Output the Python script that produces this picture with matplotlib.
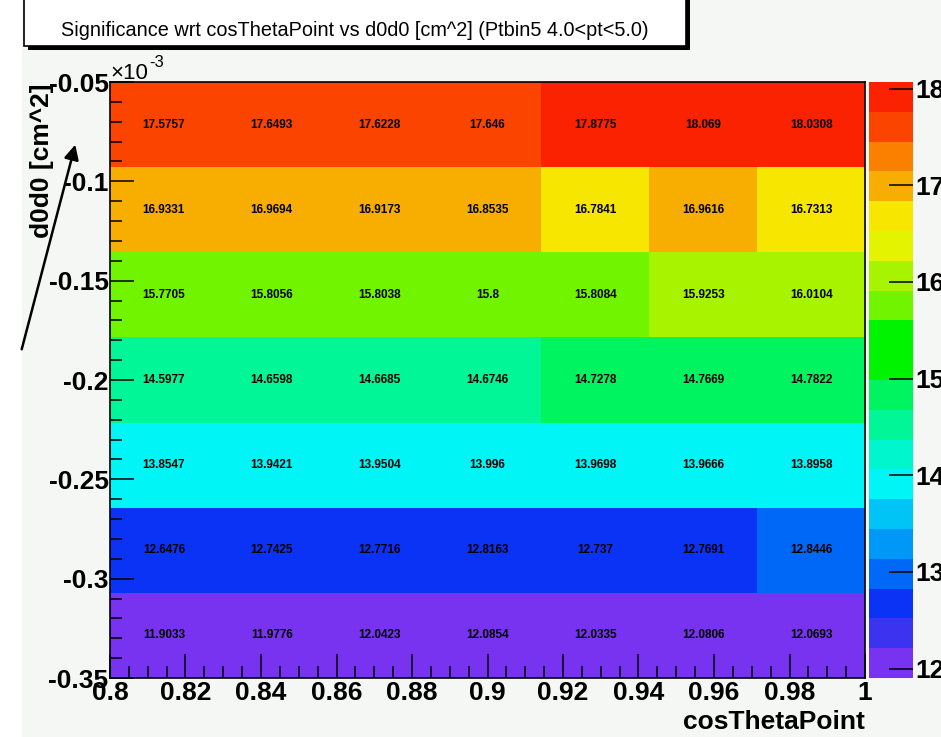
import matplotlib
matplotlib.use('Agg')
import matplotlib.pyplot as plt
from matplotlib.colors import ListedColormap, BoundaryNorm
from matplotlib.patches import Rectangle, FancyArrowPatch
from matplotlib.ticker import MultipleLocator
import numpy as np

plt.rcParams['axes.unicode_minus'] = False
FONT = ['Liberation Sans', 'DejaVu Sans']

# cosThetaPoint bins (x) and d0d0 bins in units of 1e-3 cm^2 (y)
x_low, x_high, n_x = 0.8, 1.0, 7
y_low, y_high, n_y = -0.35, -0.05, 7

# significance per cell, rows listed from the top bin (d0d0 = -0.05) down
row1 = [17.5757, 17.6493, 17.6228, 17.646, 17.8775, 18.069, 18.0308]
row2 = [16.9331, 16.9694, 16.9173, 16.8535, 16.7841, 16.9616, 16.7313]
row3 = [15.7705, 15.8056, 15.8038, 15.8, 15.8084, 15.9253, 16.0104]
row4 = [14.5977, 14.6598, 14.6685, 14.6746, 14.7278, 14.7669, 14.7822]
row5 = [13.8547, 13.9421, 13.9504, 13.996, 13.9698, 13.9666, 13.8958]
row6 = [12.6476, 12.7425, 12.7716, 12.8163, 12.737, 12.7691, 12.8446]
row7 = [11.9033, 11.9776, 12.0423, 12.0854, 12.0335, 12.0806, 12.0693]

x_ticks = [0.8, 0.82, 0.84, 0.86, 0.88, 0.9, 0.92, 0.94, 0.96, 0.98, 1.0]
y_ticks = [-0.35, -0.3, -0.25, -0.2, -0.15, -0.1, -0.05]
z_ticks = [12, 13, 14, 15, 16, 17, 18]

# ROOT-like 20 colour contour palette, low -> high
palette = ['#7733f0', '#3c33f0', '#0a33f6', '#0068f6', '#0098f6', '#00c4f6',
           '#00f6f6', '#00f6cc', '#00f696', '#00f460', '#00f400', '#00f400',
           '#70f400', '#a8f400', '#e4f400', '#f6e600', '#f8ae00', '#fc8000',
           '#fb4400', '#fa2200']

W, H = 941, 737
fig = plt.figure(figsize=(W / 100, H / 100), dpi=100)
fig.patch.set_facecolor('white')

def fx(px):
    return px / W

def fy(py):
    return 1 - py / H

# pad background
fig.patches.append(Rectangle((fx(22), 0), 1 - fx(22), 1, transform=fig.transFigure,
                             facecolor='#f4f7f4', edgecolor='none', zorder=-5))

# title box with shadow
fig.patches.append(Rectangle((fx(28), fy(50)), fx(662), fy(-4) - fy(50),
                             transform=fig.transFigure, facecolor='black',
                             edgecolor='none', zorder=1))
fig.patches.append(Rectangle((fx(24), fy(46)), fx(662), fy(-4) - fy(46),
                             transform=fig.transFigure, facecolor='white',
                             edgecolor='black', linewidth=1.2, zorder=2))
fig.text(fx(355), fy(30), 'Significance wrt cosThetaPoint vs d0d0 [cm^2] (Ptbin5 4.0<pt<5.0)',
         ha='center', va='center', fontsize=14.3, family=FONT, zorder=3)

ax = fig.add_axes([fx(110), fy(678), fx(755), fy(82) - fy(678)])
cax = fig.add_axes([fx(869), fy(678), fx(44), fy(82) - fy(678)])

z = np.array([row7, row6, row5, row4, row3, row2, row1])
x_edges = np.linspace(x_low, x_high, n_x + 1)
y_edges = np.linspace(y_low, y_high, n_y + 1)
levels = np.linspace(z.min(), z.max(), len(palette) + 1)
cmap = ListedColormap(palette)
norm = BoundaryNorm(levels, cmap.N)

mesh = ax.pcolormesh(x_edges, y_edges, z, cmap=cmap, norm=norm)
x_mid = (x_edges[:-1] + x_edges[1:]) / 2
y_mid = (y_edges[:-1] + y_edges[1:]) / 2
for j in range(n_y):
    for i in range(n_x):
        ax.text(x_mid[i], y_mid[j], f'{z[j, i]:g}', ha='center', va='center',
                fontsize=8.5, fontweight='bold', family=FONT)

ax.set_xlim(x_low, x_high)
ax.set_ylim(y_low, y_high)
ax.set_xticks(x_ticks)
ax.set_xticklabels([f'{v:g}' for v in x_ticks])
ax.set_yticks(y_ticks)
ax.set_yticklabels([f'{v:g}' for v in y_ticks])
ax.xaxis.set_minor_locator(MultipleLocator(0.005))
ax.yaxis.set_minor_locator(MultipleLocator(0.01))
ax.tick_params(which='both', direction='in', width=1.1, color='black')
ax.tick_params(which='major', length=17)
ax.tick_params(which='minor', length=8.5)
ax.tick_params(axis='x', pad=2)
ax.tick_params(axis='y', pad=1)
for lab in ax.get_xticklabels() + ax.get_yticklabels():
    lab.set_family(FONT)
    lab.set_fontweight('bold')
    lab.set_fontsize(19)
for sp in ax.spines.values():
    sp.set_linewidth(1.2)

fig.text(fx(110), fy(79), '×10', fontsize=16, family=FONT, ha='left', va='baseline')
fig.text(fx(149), fy(67), '-3', fontsize=12, family=FONT, ha='left', va='baseline')

fig.text(fx(42), fy(84), 'd0d0 [cm^2]', rotation=90, ha='center', va='top',
         fontsize=19, fontweight='bold', family=FONT)
fig.text(fx(865), fy(722), 'cosThetaPoint', ha='right', va='center',
         fontsize=19, fontweight='bold', family=FONT)

cb = fig.colorbar(mesh, cax=cax, spacing='proportional', ticks=z_ticks)
cb.outline.set_visible(False)
cax.yaxis.set_ticks_position('right')
cax.tick_params(direction='in', length=17, width=1.1, pad=2)
cax.set_yticklabels([str(t) for t in z_ticks])
for lab in cax.get_yticklabels():
    lab.set_family(FONT)
    lab.set_fontweight('bold')
    lab.set_fontsize(19)
cax.minorticks_off()

# hand-drawn arrow on the canvas
fig.patches.append(FancyArrowPatch((fx(21), fy(352)), (fx(76), fy(142)),
                                   transform=fig.transFigure, arrowstyle='-|>',
                                   mutation_scale=22, linewidth=1.8, color='black',
                                   zorder=5))

fig.savefig('out.png', dpi=100)
